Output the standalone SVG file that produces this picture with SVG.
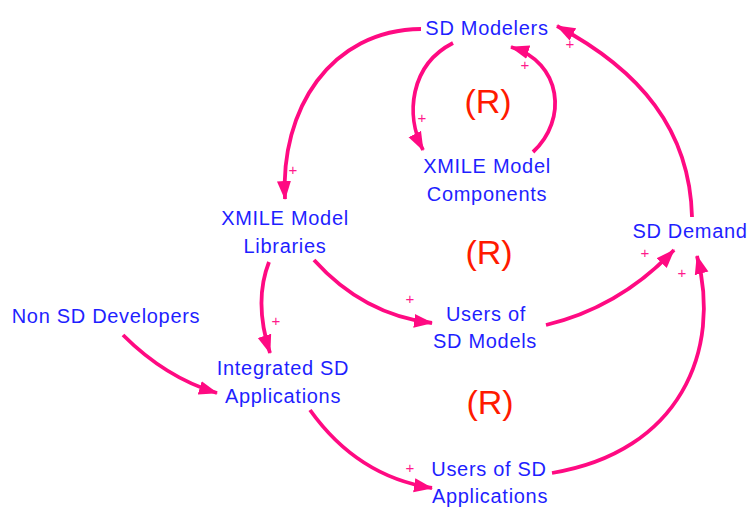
<svg xmlns="http://www.w3.org/2000/svg" width="749" height="507" viewBox="0 0 749 507">
  <style>
    .lbl { font-family: "Liberation Sans", Arial, sans-serif; font-size: 20px; fill: #1f1fff; letter-spacing: 0.7px; text-anchor: middle; }
    .loop { font-family: "Liberation Sans", Arial, sans-serif; font-size: 34px; fill: #ff1a00; text-anchor: middle; }
    .sign { font-family: "Liberation Sans", Arial, sans-serif; font-size: 15px; fill: #ff1a8c; text-anchor: middle; }
    .link { fill: none; stroke: #ff0a82; stroke-width: 3.8; marker-end: url(#head); }
  </style>
  <defs>
    <marker id="head" markerUnits="userSpaceOnUse" markerWidth="20" markerHeight="16" refX="18" refY="8" orient="auto">
      <path d="M0,1 L19,8 L0,15 Z" fill="#ff0a82"/>
    </marker>
  </defs>
  <rect width="749" height="507" fill="#ffffff"/>

  <g id="connectors">
    <path class="link" d="M421 29 C330 30 280 110 285 199"/>
    <path class="link" d="M453 43 C410 65 405 115 423 150"/>
    <path class="link" d="M533 152 C568 120 562 62 511 47"/>
    <path class="link" d="M692 217 C690 130 640 70 557 26"/>
    <path class="link" d="M269 262 C258 290 260 322 270 353"/>
    <path class="link" d="M123 335 C150 362 180 382 217 393"/>
    <path class="link" d="M314 260 C350 300 390 318 432 323"/>
    <path class="link" d="M546 325 C600 312 640 286 674 250"/>
    <path class="link" d="M310 410 C340 452 380 480 432 488"/>
    <path class="link" d="M552 473 C680 452 722 350 697 256"/>
  </g>

  <g id="signs">
    <text class="sign" x="293" y="175">+</text>
    <text class="sign" x="422" y="123">+</text>
    <text class="sign" x="525" y="70">+</text>
    <text class="sign" x="570" y="49">+</text>
    <text class="sign" x="276" y="326">+</text>
    <text class="sign" x="410" y="304">+</text>
    <text class="sign" x="645" y="258">+</text>
    <text class="sign" x="682" y="278">+</text>
    <text class="sign" x="410" y="473">+</text>
  </g>

  <g id="loops">
    <text class="loop" x="488" y="113">(R)</text>
    <text class="loop" x="489" y="264">(R)</text>
    <text class="loop" x="490" y="414">(R)</text>
  </g>

  <g id="sd-modelers"><text class="lbl" x="487" y="35">SD Modelers</text></g>
  <g id="xmile-components"><text class="lbl" x="487" y="173">XMILE Model</text><text class="lbl" x="487" y="201">Components</text></g>
  <g id="xmile-libraries"><text class="lbl" x="285" y="225">XMILE Model</text><text class="lbl" x="285" y="253">Libraries</text></g>
  <g id="sd-demand"><text class="lbl" x="690" y="238">SD Demand</text></g>
  <g id="non-sd-developers"><text class="lbl" x="106" y="323">Non SD Developers</text></g>
  <g id="users-sd-models"><text class="lbl" x="486" y="321">Users of</text><text class="lbl" x="485" y="348">SD Models</text></g>
  <g id="integrated-sd-apps"><text class="lbl" x="283" y="375">Integrated SD</text><text class="lbl" x="283" y="403">Applications</text></g>
  <g id="users-sd-apps"><text class="lbl" x="489" y="476">Users of SD</text><text class="lbl" x="490" y="503">Applications</text></g>
</svg>
